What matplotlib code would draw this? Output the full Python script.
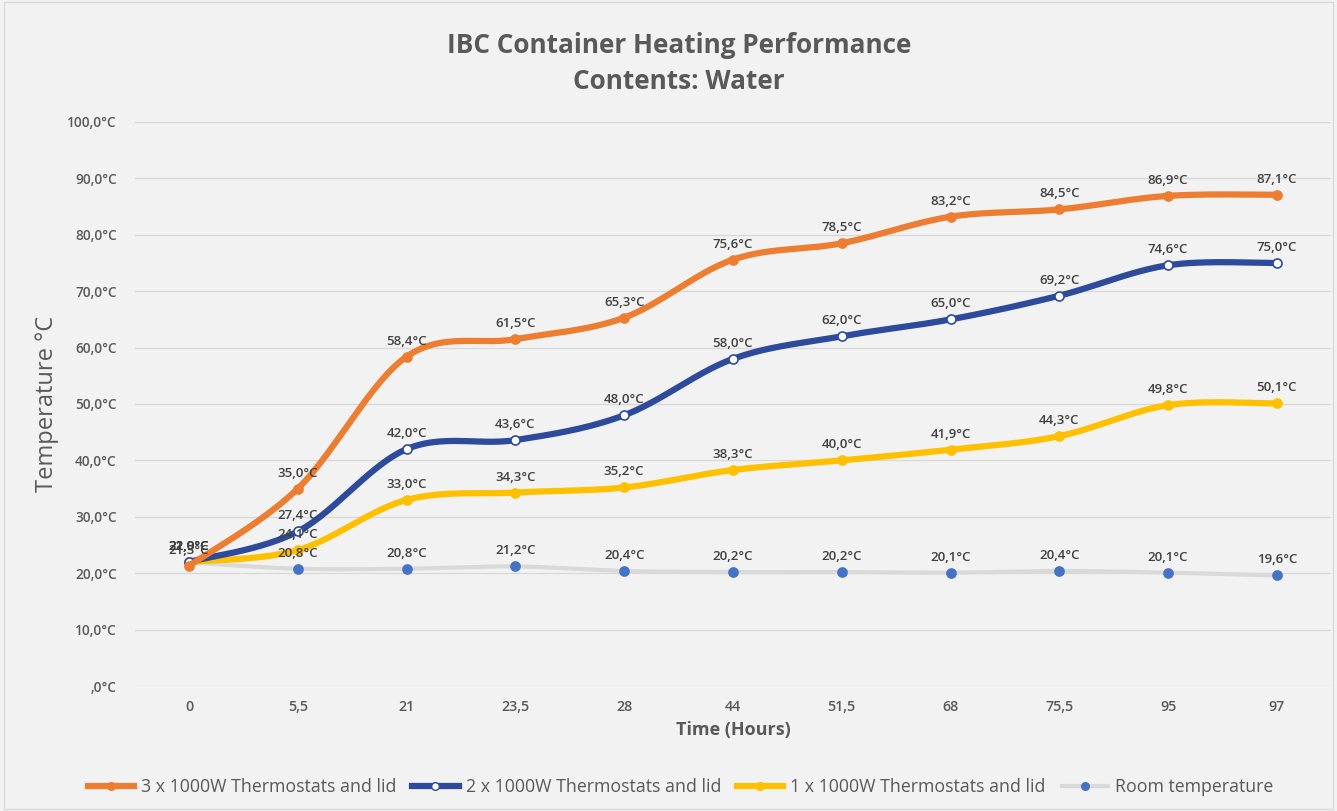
import numpy as np
import matplotlib; matplotlib.use("Agg")
import matplotlib.pyplot as plt
from matplotlib.lines import Line2D

plt.rcParams['font.family'] = ['Open Sans', 'DejaVu Sans']

hours = ["0", "5,5", "21", "23,5", "28", "44", "51,5", "68", "75,5", "95", "97"]
three_kw = [21.3, 35.0, 58.4, 61.5, 65.3, 75.6, 78.5, 83.2, 84.5, 86.9, 87.1]
two_kw = [22.0, 27.4, 42.0, 43.6, 48.0, 58.0, 62.0, 65.0, 69.2, 74.6, 75.0]
one_kw = [22.0, 24.1, 33.0, 34.3, 35.2, 38.3, 40.0, 41.9, 44.3, 49.8, 50.1]
room = [21.9, 20.8, 20.8, 21.2, 20.4, 20.2, 20.2, 20.1, 20.4, 20.1, 19.6]
yticks = list(range(0, 101, 10))


def smooth(y, n=30):
    # Catmull-Rom style bezier, like the office "smoothed line"
    y = np.asarray(y, float); x = np.arange(len(y), dtype=float)
    px = np.concatenate([[x[0]], x, [x[-1]]]); py = np.concatenate([[y[0]], y, [y[-1]]])
    xs, ys = [], []
    t = np.linspace(0, 1, n)
    for i in range(len(y) - 1):
        p0 = np.array([x[i], y[i]]); p3 = np.array([x[i + 1], y[i + 1]])
        p1 = p0 + (np.array([px[i + 2], py[i + 2]]) - np.array([px[i], py[i]])) / 6
        p2 = p3 - (np.array([px[i + 3], py[i + 3]]) - np.array([px[i + 1], py[i + 1]])) / 6
        b = ((1 - t) ** 3)[:, None] * p0 + (3 * (1 - t) ** 2 * t)[:, None] * p1 \
            + (3 * (1 - t) * t ** 2)[:, None] * p2 + (t ** 3)[:, None] * p3
        xs.append(b[:, 0]); ys.append(b[:, 1])
    return np.concatenate(xs), np.concatenate(ys)


bg = "#f2f2f2"
grey = "#595959"
fig = plt.figure(figsize=(13.37, 8.11), dpi=100, facecolor=bg)
ax = fig.add_axes([0.1007, 0.1541, 0.895, 0.6955], facecolor=bg)

series = [
    (three_kw, "#ED7D31", "#ED7D31", "#ED7D31", "3 x 1000W Thermostats and lid"),
    (two_kw, "#2E4A9B", "white", "#2E4A9B", "2 x 1000W Thermostats and lid"),
    (one_kw, "#FFC000", "#FFC000", "#FFC000", "1 x 1000W Thermostats and lid"),
    (room, "#D9D9D9", "#4472C4", "#4472C4", "Room temperature"),
]
x = np.arange(len(hours))
handles = []
for k, (vals, lc, mfc, mec, lab) in enumerate(series):
    z = 10 - k
    lw = 4.5 if k < 3 else 3
    sx, sy = smooth(vals)
    ax.plot(sx, sy, color=lc, lw=lw, solid_capstyle="round", zorder=z)
    ax.plot(x, vals, ls="none", marker="o", ms=6.5, mfc=mfc, mec=mec, mew=1.2, zorder=z + 0.5)
    for xi, v in zip(x, vals):
        ax.annotate(f"{v:.1f}°C".replace(".", ","), (xi, v), xytext=(0, 6.5), textcoords="offset points",
                    ha="center", va="bottom", fontsize=9.5, fontweight="semibold", color="#404040", zorder=20)
    handles.append(Line2D([], [], color=lc, lw=lw, marker="o", ms=5.5,
                          mfc=mfc, mec=mec, label=lab))

ax.set_xlim(-0.5, len(hours) - 0.5)
ax.set_ylim(0, 100)
ax.set_yticks(yticks)
ax.set_yticklabels([f"{v},0°C" if v else ",0°C" for v in yticks], fontsize=9.8,
                   fontweight="semibold", color=grey)
ax.set_xticks(x)
ax.set_xticklabels(hours, fontsize=10.3, fontweight="semibold", color=grey)
ax.tick_params(axis="x", length=0, pad=10)
ax.tick_params(axis="y", length=0, pad=13)
ax.grid(axis="y", color="#d9d9d9", lw=1)
ax.set_axisbelow(True)
for s in ax.spines.values():
    s.set_visible(False)
ax.set_xlabel("Time (Hours)", fontsize=13, fontweight="bold", color=grey, labelpad=5)
ax.set_ylabel("Temperature °C", fontsize=17, color=grey, labelpad=6)

fig.text(0.508, 0.944, "IBC Container Heating Performance", ha="center", va="center",
         fontsize=18.8, fontweight="bold", color=grey)
fig.text(0.508, 0.899, "Contents: Water", ha="center", va="center",
         fontsize=18.8, fontweight="bold", color=grey)
fig.legend(handles=handles, loc="center", bbox_to_anchor=(0.509, 0.029), ncol=4, frameon=False,
           fontsize=12.8, labelcolor=grey, handlelength=2.6, columnspacing=0.9, handletextpad=0.4)
fig.add_artist(plt.Rectangle((0.003, 0.003), 0.994, 0.994, transform=fig.transFigure,
                             fill=False, ec="#d9d9d9", lw=1))
fig.savefig("out.png", dpi=100, facecolor=bg)
